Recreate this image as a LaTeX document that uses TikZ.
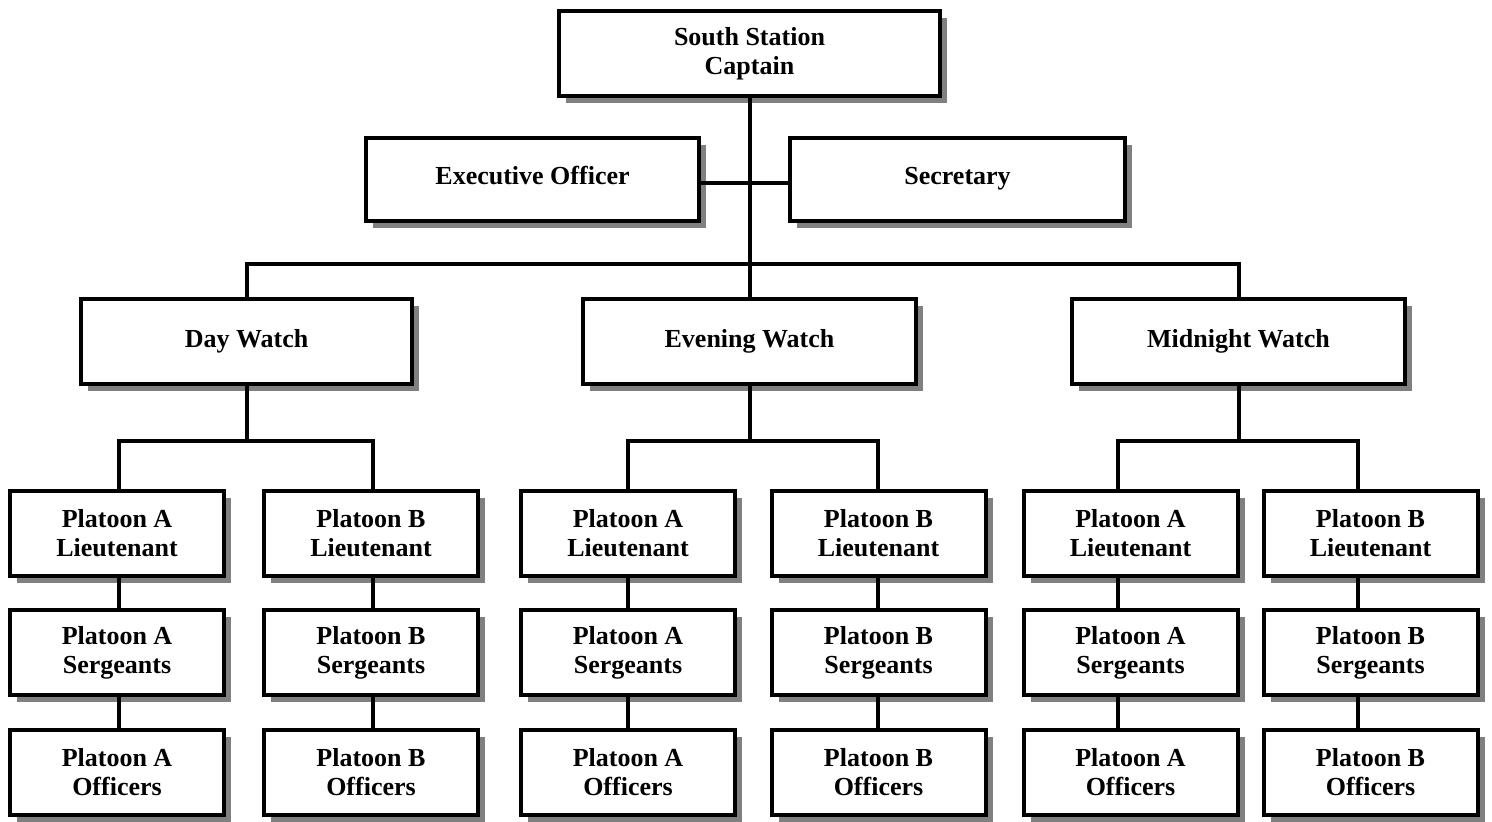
\documentclass[tikz,border=0pt]{standalone}
\usepackage{fontspec}
\setmainfont{Liberation Serif}
\usetikzlibrary{shadows}
\tikzset{
  bx/.style 2 args={draw, line width=2pt, fill=white,
    minimum width=#1*0.5pt, minimum height=#2*0.5pt, inner sep=0pt,
    align=center, font=\fontsize{13}{14.5}\selectfont\bfseries,
    drop shadow={shadow xshift=3.5pt, shadow yshift=-3.5pt, fill=black!50, opacity=1}},
  small/.style={bx={214}{85}},
  conn/.style={draw, line width=2pt, line join=miter}
}
\begin{document}
\begin{tikzpicture}[x=0.5pt,y=-0.5pt]
\useasboundingbox (0,0) rectangle (1492,821);
% top
\node[bx={381}{85}] (cap) at (749.5,53.5) {South Station\\Captain};
\node[bx={333}{83}] (exec) at (532.5,179) {\strut Executive Officer};
\node[bx={335}{83}] (sec) at (957.5,179) {\strut Secretary};
% watches
\node[bx={331}{85}] (day) at (246.5,341.5) {Day Watch};
\node[bx={333}{85}] (eve) at (749.5,341.5) {Evening Watch};
\node[bx={333}{85}] (mid) at (1238.5,341.5) {Midnight Watch};
% junction coordinates
\coordinate (wl) at (0,264);
\coordinate (kDA) at (119,441);
\coordinate (kDB) at (373,441);
\coordinate (kEA) at (628,441);
\coordinate (kEB) at (878,441);
\coordinate (kMA) at (1118,441);
\coordinate (kMB) at (1358,441);
% platoon boxes
\foreach \n/\x/\p in {DA/117/A, DB/371/B, EA/628/A, EB/878.5/B, MA/1130.5/A, MB/1370.5/B}{
  \node[small] (\n L) at (\x,533.5) {Platoon \p\\Lieutenant};
  \node[small] (\n S) at (\x,652.5) {Platoon \p\\Sergeants};
  \node[small] (\n O) at (\x,772.5) {Platoon \p\\Officers};
}
% connectors
\draw[conn] (cap.south) -- (eve.north);
\draw[conn] ([yshift=-2pt]exec.east) -- ([yshift=-2pt]sec.west);
\draw[conn] (day.north) -- (day.north |- wl) -- (mid.north |- wl) -- (mid.north);
\foreach \w/\a/\b in {day/DA/DB, eve/EA/EB, mid/MA/MB}{
  \draw[conn] (\w.south) -- (\w.south |- k\a);
  \draw[conn] (\a L.north -| k\a) -- (k\a) -- (k\b) -- (\b L.north -| k\b);
}
\foreach \n in {DA, DB, EA, EB, MA, MB}{
  \draw[conn] (\n L.south -| k\n) -- (\n S.north -| k\n);
  \draw[conn] (\n S.south -| k\n) -- (\n O.north -| k\n);
}
\end{tikzpicture}
\end{document}
